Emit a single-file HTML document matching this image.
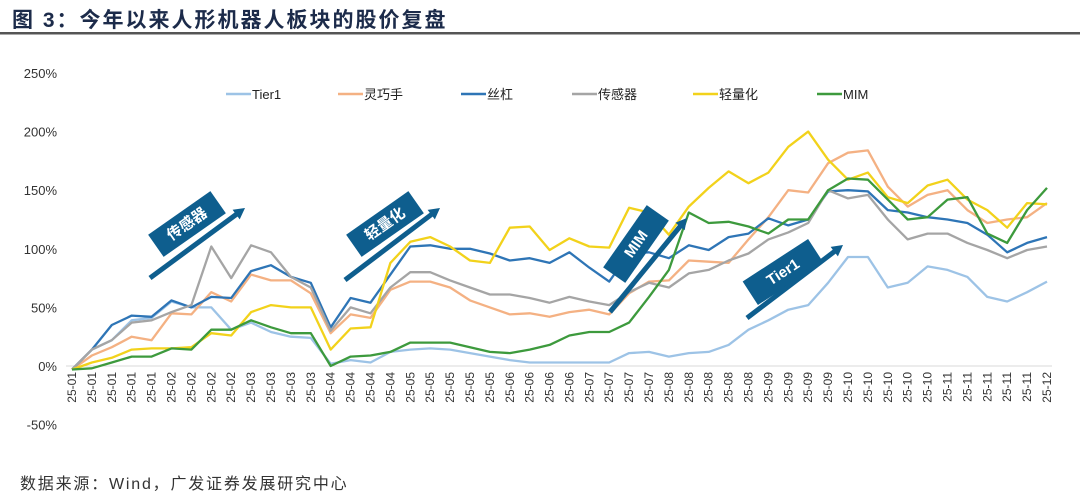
<!DOCTYPE html>
<html><head><meta charset="utf-8">
<style>
html,body{margin:0;padding:0;background:#fff;}
svg{display:block;font-family:"Liberation Sans","Noto Sans CJK SC",sans-serif;}
</style></head>
<body>
<svg id="chart" width="1080" height="498" viewBox="0 0 1080 498" xmlns="http://www.w3.org/2000/svg">
<text x="12" y="27" font-size="21" font-weight="bold" fill="#1c2b4a" letter-spacing="2">图  3：今年以来人形机器人板块的股价复盘</text>
<rect x="0" y="32" width="1080" height="2.5" fill="#555"/>
<g id="yaxis"></g>
<g id="xaxis"></g>
<g id="series"></g>
<g id="legend"></g>
<g id="annot"></g>
<text x="20" y="489" font-size="16" fill="#333" letter-spacing="1.8">数据来源：Wind，广发证券发展研究中心</text>
</svg>
<script>
const monthLabels = ["25-01","25-01","25-01","25-01","25-01","25-02","25-02","25-02","25-02","25-03","25-03","25-03","25-03","25-04","25-04","25-04","25-04","25-05","25-05","25-05","25-05","25-05","25-06","25-06","25-06","25-06","25-07","25-07","25-07","25-07","25-08","25-08","25-08","25-08","25-08","25-09","25-09","25-09","25-09","25-10","25-10","25-10","25-10","25-10","25-11","25-11","25-11","25-11","25-11","25-12"];
const yTicks = [-50,0,50,100,150,200,250];
const seriesNames = ["Tier1","灵巧手","丝杠","传感器","轻量化","MIM"];
const tier1 = [-3,14,22,39,41,55,50,50,31,37,29,25,24,2,5,3,12,14,15,14,11,8,5,3,3,3,3,3,11,12,8,11,12,18,31,39,48,52,71,93,93,67,71,85,82,76,59,55,63,72];
const lingqiao = [-3,9,16,25,22,45,44,63,55,78,73,73,62,28,44,41,65,72,72,67,56,50,44,45,42,46,48,44,62,72,73,90,89,88,108,127,150,148,173,182,184,153,136,146,150,133,122,125,127,139];
const sigang = [-3,14,35,43,42,56,50,59,58,81,86,76,71,33,58,54,78,102,103,100,100,96,90,92,88,97,84,72,96,97,92,103,99,110,113,126,120,125,149,150,149,133,131,127,125,122,112,97,105,110];
const chuangan = [-3,14,22,37,39,46,52,102,75,103,97,76,67,30,50,45,67,80,80,73,67,61,61,58,54,59,55,52,63,71,67,79,82,90,96,108,114,122,150,143,146,125,108,113,113,105,99,92,99,102];
const qingliang = [-3,3,7,14,15,15,16,28,26,46,52,50,50,14,32,33,88,106,110,102,90,88,118,119,99,109,102,101,135,131,112,136,152,166,156,165,187,200,176,159,165,144,139,154,159,142,133,118,139,138];
const mim = [-3,-2,3,8,8,15,14,31,31,39,33,28,28,0,8,9,12,20,20,20,16,12,11,14,18,26,29,29,37,59,82,131,122,123,119,113,125,125,150,160,159,142,125,127,142,144,113,105,133,152];
const allSeries = [tier1, lingqiao, sigang, chuangan, qingliang, mim];
const colors = ["#9dc3e6","#f4b183","#2e75b6","#a5a5a5","#f2d21b","#3d9a3d"];
const seriesKeys = ["tier1","lingqiaoshou","sigang","chuanganqi","qinglianghua","mim"];

const NS = "http://www.w3.org/2000/svg";
const X0 = 72, X1 = 1047, Y0 = 366, PX_PER_PCT = 1.172;
function xScale(i){ return X0 + i*(X1-X0)/(monthLabels.length-1); }
function yScale(v){ return Y0 - v*PX_PER_PCT; }
function mk(tag, attrs, parent){ const e=document.createElementNS(NS,tag); for(const k in attrs) e.setAttribute(k,attrs[k]); parent.appendChild(e); return e; }

const ya = document.getElementById('yaxis');
yTicks.forEach(t=>{
  const tx = mk('text',{x:57,y:yScale(t)+5,'text-anchor':'end','font-size':13,fill:'#333'},ya);
  tx.textContent = t+'%';
  
  
});
const zl = mk('line',{x1:66,x2:1052,y1:yScale(0),y2:yScale(0),stroke:'#d9d9d9','stroke-width':1},ya);



const xa = document.getElementById('xaxis');
monthLabels.forEach((m,i)=>{
  const x = xScale(i);
  const tx = mk('text',{transform:`translate(${x+4},372) rotate(-90)`,'text-anchor':'end','font-size':12,fill:'#333'},xa);
  tx.textContent = m;
  
  
});

const sg = document.getElementById('series');
allSeries.forEach((arr,si)=>{
  const pts = arr.map((v,i)=>xScale(i).toFixed(1)+','+yScale(v).toFixed(1)).join(' ');
  const pl = mk('polyline',{points:pts,fill:'none',stroke:colors[si],'stroke-width':2.3,'stroke-linejoin':'round'},sg);
  
  
});

const lg = document.getElementById('legend');
const legX = [226,338,461,572,693,817];
seriesNames.forEach((n,si)=>{
  const g = mk('g',{},lg);
  
  
  mk('line',{x1:legX[si],x2:legX[si]+25,y1:94,y2:94,stroke:colors[si],'stroke-width':2.6},g);
  const t = mk('text',{x:legX[si]+26,y:99,'font-size':13,fill:'#222'},g);
  t.textContent = n;
});

const an = document.getElementById('annot');
const notes = [
  {label:"传感器", cx:187, cy:224, ang:-35, w:76, h:27, a:[150,278,245,208], key:'sensor'},
  {label:"轻量化", cx:385, cy:224, ang:-35, w:76, h:27, a:[345,280,440,208], key:'lightweight'},
  {label:"MIM", cx:636, cy:244, ang:-55, w:76, h:27, a:[610,312,687,218], key:'mim'},
  {label:"Tier1", cx:783, cy:272, ang:-33, w:78, h:28, a:[747,318,843,245], key:'tier1'}
];
notes.forEach(n=>{
  const g = mk('g',{},an);
  
  
  const b = mk('g',{transform:`translate(${n.cx},${n.cy}) rotate(${n.ang})`},g);
  mk('rect',{x:-n.w/2,y:-n.h/2,width:n.w,height:n.h,fill:'#0e5e8e'},b);
  const t = mk('text',{x:0,y:5,'text-anchor':'middle','font-size':15,fill:'#fff','font-weight':'bold'},b);
  t.textContent = n.label;
  const [x1,y1,x2,y2] = n.a;
  mk('line',{x1:x1,y1:y1,x2:x2-(x2-x1)*0.06,y2:y2-(y2-y1)*0.06,stroke:'#0e5e8e','stroke-width':5},g);
  const ang = Math.atan2(y2-y1,x2-x1);
  const L=11, W=6;
  const bx = x2 - L*Math.cos(ang), by = y2 - L*Math.sin(ang);
  const px = -Math.sin(ang)*W, py = Math.cos(ang)*W;
  mk('polygon',{points:`${x2},${y2} ${bx+px},${by+py} ${bx-px},${by-py}`,fill:'#0e5e8e'},g);
});
</script>
</body></html>
